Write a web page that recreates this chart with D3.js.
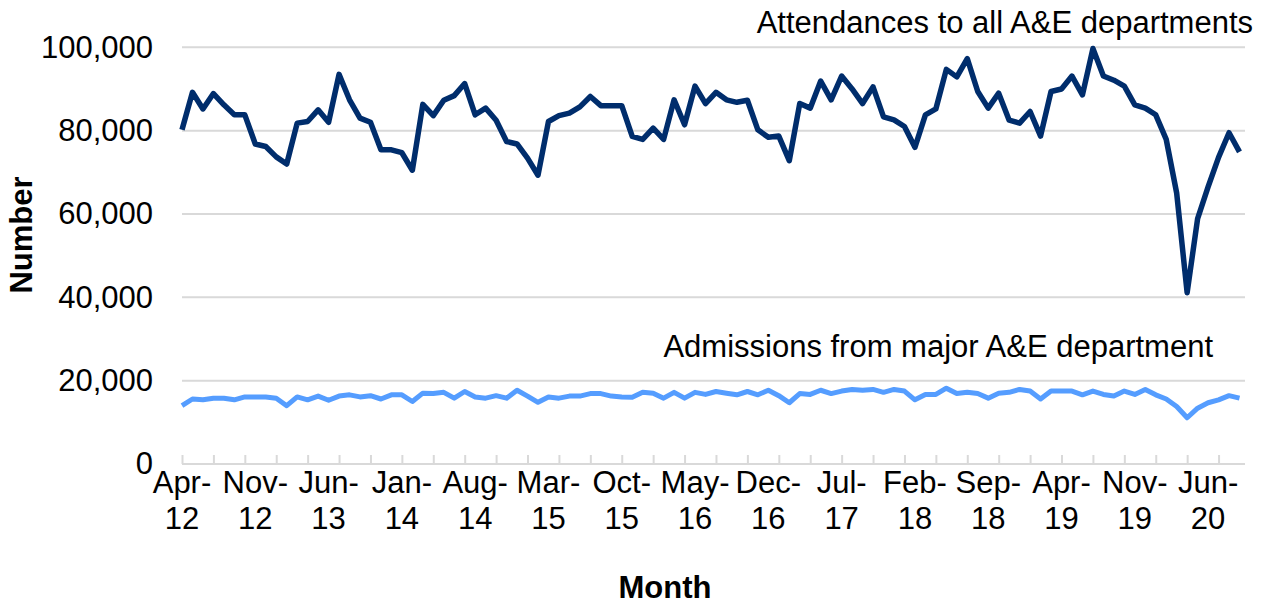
<!DOCTYPE html>
<html>
<head>
<meta charset="utf-8">
<script src="https://cdn.jsdelivr.net/npm/d3@7"></script>
<style>
  body { margin: 0; background: #fff; }
  svg { display: block; font-family: "Liberation Sans", Arial, sans-serif; }
</style>
</head>
<body>
<svg id="chart" width="1266" height="605"></svg>
<script>
// monthly categories Apr-12 .. Sep-20
const months = d3.timeMonth.range(new Date(2012, 3, 1), new Date(2020, 9, 1)).map(d3.timeFormat("%b-%y"));

const tickLabels = ["Apr-12", "Nov-12", "Jun-13", "Jan-14", "Aug-14", "Mar-15", "Oct-15", "May-16",
  "Dec-16", "Jul-17", "Feb-18", "Sep-18", "Apr-19", "Nov-19", "Jun-20"];

const yTicks = [0, 20000, 40000, 60000, 80000, 100000];

// Attendances to all A&E departments (thousands)
const attendances = [
  80.2, 89.2, 85.2, 88.9, 86.2, 83.8, 83.8, 76.8, 76.2, 73.7, 72.0, 81.8, 82.2, 85.0, 82.0, 93.5,
  87.4, 83.0, 82.0, 75.4, 75.4, 74.7, 70.5, 86.3, 83.6, 87.3, 88.4, 91.3, 83.8, 85.4, 82.5, 77.4,
  76.8, 73.4, 69.3, 82.2, 83.6, 84.2, 85.7, 88.2, 86.0, 86.0, 86.0, 78.6, 77.9, 80.6, 77.9, 87.4,
  81.4, 90.7, 86.5, 89.2, 87.4, 86.8, 87.3, 80.2, 78.4, 78.7, 72.8, 86.5, 85.4, 91.9, 87.4, 93.1,
  90.0, 86.5, 90.5, 83.3, 82.6, 81.0, 76.0, 83.8, 85.2, 94.7, 92.9, 97.3, 89.4, 85.4, 89.0, 82.5,
  81.8, 84.6, 78.7, 89.4, 90.0, 93.1, 88.6, 99.7, 93.1, 92.1, 90.7, 86.2, 85.4, 83.8, 77.9, 65.0,
  41.1, 58.9, 66.5, 73.6, 79.5, 74.9
];

// Admissions from major A&E department (thousands)
const admissions = [
  14.0, 15.6, 15.4, 15.8, 15.8, 15.4, 16.1, 16.1, 16.1, 15.8, 14.0, 16.1, 15.4, 16.3, 15.3, 16.3,
  16.6, 16.1, 16.4, 15.6, 16.6, 16.6, 15.0, 17.0, 16.9, 17.2, 15.8, 17.4, 16.1, 15.8, 16.4, 15.8,
  17.7, 16.3, 14.8, 16.1, 15.8, 16.3, 16.3, 16.9, 16.9, 16.3, 16.1, 16.0, 17.2, 17.0, 15.8, 17.2,
  15.8, 17.2, 16.7, 17.4, 17.0, 16.6, 17.4, 16.6, 17.7, 16.4, 14.7, 16.9, 16.7, 17.7, 16.9, 17.5,
  17.9, 17.7, 17.9, 17.2, 17.9, 17.5, 15.4, 16.7, 16.7, 18.2, 16.9, 17.2, 16.9, 15.8, 17.0, 17.2,
  17.9, 17.5, 15.6, 17.5, 17.5, 17.5, 16.6, 17.5, 16.7, 16.3, 17.5, 16.7, 17.9, 16.6, 15.6, 13.8,
  11.1, 13.4, 14.7, 15.4, 16.4, 15.8
];

const svg = d3.select("#chart");
const plotLeft = 182, lastX = 1239.5, plotRight = 1245, plotTop = 47.3, plotBottom = 464;
const fs = 31;

const x = d3.scalePoint().domain(months).range([plotLeft, lastX]);
const y = d3.scaleLinear().domain([0, 100000]).range([plotBottom, plotTop]);

// gridlines
svg.append("g")
  .selectAll("line")
  .data(yTicks)
  .join("line")
  .attr("x1", plotLeft).attr("x2", plotRight)
  .attr("y1", d => y(d)).attr("y2", d => y(d))
  .attr("stroke", "#d9d9d9")
  .attr("stroke-width", 2);

// y axis labels
const yAxis = svg.append("g")
  .attr("transform", `translate(${plotLeft},0)`)
  .call(d3.axisLeft(y).tickValues(yTicks).tickFormat(d3.format(",")).tickSize(0).tickPadding(29));
yAxis.select(".domain").remove();
yAxis.selectAll("text")
  .attr("font-size", fs)
  .attr("font-family", "Liberation Sans, Arial, sans-serif")
  .attr("fill", "#000");

// x axis: tick marks every 3 months, pointing up
const xAxisG = svg.append("g").attr("transform", `translate(0,${plotBottom})`);
xAxisG.call(d3.axisTop(x).tickValues(months.filter((m, i) => i % 3 === 0)).tickSize(9).tickFormat(""));
xAxisG.select(".domain").remove();
xAxisG.selectAll(".tick line").attr("stroke", "#d9d9d9").attr("stroke-width", 2);
xAxisG.append("line")
  .attr("x1", plotLeft).attr("x2", plotRight)
  .attr("stroke", "#d9d9d9").attr("stroke-width", 2);

// x labels, two rows
const lbl = svg.append("g")
  .selectAll("text")
  .data(tickLabels)
  .join("text")
  .attr("x", d => x(d))
  .attr("text-anchor", "middle")
  .attr("font-size", fs)
  .attr("fill", "#000");
lbl.append("tspan").attr("x", d => x(d)).attr("y", 493).text(d => d.split("-")[0] + "-");
lbl.append("tspan").attr("x", d => x(d)).attr("y", 529).text(d => d.split("-")[1]);

// lines
const line = vals => d3.line()
  .x((d, i) => x(months[i]))
  .y(d => y(d * 1000))(vals);

svg.append("path")
  .attr("d", line(admissions))
  .attr("fill", "none")
  .attr("stroke", "#559dff")
  .attr("stroke-width", 5)
  .attr("stroke-linejoin", "round");

svg.append("path")
  .attr("d", line(attendances))
  .attr("fill", "none")
  .attr("stroke", "#002d6c")
  .attr("stroke-width", 5.5)
  .attr("stroke-linejoin", "round");

// series labels
svg.append("text")
  .attr("x", 1253).attr("y", 33)
  .attr("text-anchor", "end")
  .attr("font-size", fs)
  .text("Attendances to all A&E departments");

svg.append("text")
  .attr("x", 1213).attr("y", 357)
  .attr("text-anchor", "end")
  .attr("font-size", fs)
  .text("Admissions from major A&E department");

// axis titles
svg.append("text")
  .attr("transform", "translate(32,235) rotate(-90)")
  .attr("text-anchor", "middle")
  .attr("font-size", fs)
  .attr("font-weight", "bold")
  .text("Number");

svg.append("text")
  .attr("x", 665).attr("y", 598)
  .attr("text-anchor", "middle")
  .attr("font-size", fs)
  .attr("font-weight", "bold")
  .text("Month");
</script>
</body>
</html>
